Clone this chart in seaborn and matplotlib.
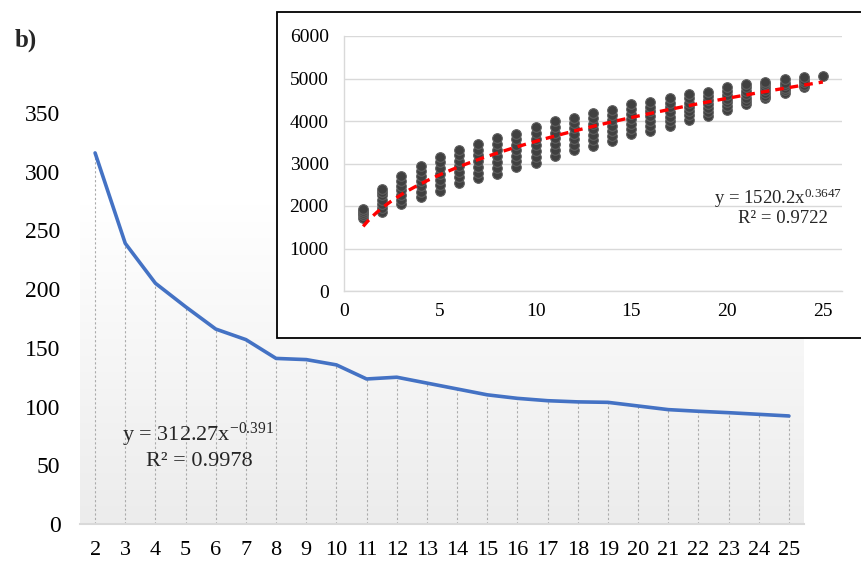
import numpy as np
import pandas as pd
import matplotlib
matplotlib.use("Agg")
import matplotlib.pyplot as plt
from matplotlib.patches import Rectangle
from matplotlib.colors import LinearSegmentedColormap
import seaborn as sns

# --- datos del grafico principal ---
main_x = list(range(2, 26))
main_y = [316, 239, 205, 185, 166, 157, 141, 140, 135.5, 123.5, 125, 120,
          115, 110, 107, 105, 104, 103.6, 100.5, 97.4, 96, 94.8, 93.4, 92]
main_yticks = [0, 50, 100, 150, 200, 250, 300, 350]

# --- datos del grafico insertado (columnas de puntos por x) ---
inset_x = list(range(1, 26))
inset_cols = [
    [1720, 1780, 1830, 1880, 1940],
    [1850, 1950, 2050, 2150, 2250, 2330, 2400],
    [2050, 2150, 2260, 2370, 2480, 2590, 2700],
    [2220, 2340, 2460, 2580, 2700, 2820, 2940],
    [2360, 2490, 2620, 2760, 2890, 3030, 3160],
    [2550, 2680, 2810, 2940, 3060, 3190, 3310],
    [2650, 2780, 2920, 3060, 3190, 3320, 3450],
    [2750, 2890, 3040, 3180, 3320, 3470, 3610],
    [2920, 3050, 3180, 3310, 3440, 3570, 3700],
    [3020, 3160, 3300, 3440, 3580, 3720, 3860],
    [3180, 3320, 3450, 3590, 3720, 3860, 3990],
    [3310, 3440, 3570, 3700, 3830, 3960, 4080],
    [3420, 3550, 3680, 3810, 3940, 4070, 4200],
    [3530, 3650, 3770, 3890, 4020, 4140, 4250],
    [3690, 3810, 3930, 4040, 4160, 4280, 4400],
    [3770, 3880, 4000, 4110, 4230, 4340, 4450],
    [3890, 4000, 4100, 4210, 4320, 4420, 4530],
    [4030, 4130, 4230, 4330, 4430, 4530, 4630],
    [4110, 4210, 4300, 4400, 4500, 4600, 4690],
    [4260, 4350, 4440, 4520, 4610, 4700, 4790],
    [4390, 4470, 4550, 4630, 4710, 4790, 4870],
    [4530, 4600, 4660, 4730, 4800, 4860, 4920],
    [4660, 4720, 4780, 4840, 4900, 4980],
    [4790, 4850, 4910, 4970, 5040],
    [5060],
]
# coeficientes de la linea de tendencia (potencial) mostrados en el grafico
trend_a = 1520.2
trend_b = 0.3647

sns.set_theme(style="white")
plt.rcParams["font.family"] = ["Liberation Serif", "DejaVu Serif"]
plt.rcParams["mathtext.fontset"] = "custom"
plt.rcParams["mathtext.rm"] = "Liberation Serif"

W, H = 861, 561
fig = plt.figure(figsize=(W / 100, H / 100), dpi=100)
fig.patch.set_facecolor("white")

# ---------- grafico principal ----------
ax = fig.add_axes([80 / W, 37 / H, 724 / W, 411 / H])
ax.set_facecolor("white")

# fondo degradado del area de trazado (blanco arriba, gris abajo)
grad = np.linspace(0, 1, 200).reshape(-1, 1)
cmap = LinearSegmentedColormap.from_list("g", ["#ffffff", "#ececec"])
ax.imshow(grad, extent=[1.5, 25.5, 0, 272], aspect="auto", cmap=cmap,
          vmin=0, vmax=1, origin="upper", zorder=0)

ax.vlines(main_x, 0, main_y, colors="#ababab", linestyles=(0, (2, 2)),
          linewidth=0.8, zorder=1)
sns.lineplot(x=main_x, y=main_y, ax=ax, color="#4472C4", linewidth=2.6,
             zorder=3)

ax.set_xlim(1.5, 25.5)
ax.set_ylim(0, 350)
ax.set_xticks(main_x)
ax.set_xticklabels([str(v) for v in main_x], fontsize=16)
ax.set_yticks(main_yticks)
ax.set_yticklabels([str(v) for v in main_yticks], fontsize=17)
ax.tick_params(axis="x", length=0, pad=12, colors="black")
ax.tick_params(axis="y", length=0, pad=14, colors="black")
for s in ["top", "right", "left"]:
    ax.spines[s].set_visible(False)
ax.spines["bottom"].set_color("#d9d9d9")
ax.spines["bottom"].set_linewidth(1.5)
ax.set_xlabel("")
ax.set_ylabel("")

ax.text(5.41, 75.8, r"y = 312.27x$\mathregular{^{-0.391}}$", ha="center",
        va="center", fontsize=16, zorder=4)
ax.text(5.45, 52.8, "R² = 0.9978", ha="center", va="center", fontsize=16,
        zorder=4)

fig.text(15 / W, 1 - 40 / H, "b)", fontsize=18, fontweight="bold",
         va="center", ha="left")

# ---------- recuadro insertado ----------
frame = Rectangle((277 / W, (H - 338) / H), 600 / W, 326 / H,
                  transform=fig.transFigure, facecolor="white",
                  edgecolor="black", linewidth=1.3, zorder=5)
fig.add_artist(frame)

ax2 = fig.add_axes([344 / W, 270 / H, 498 / W, 255 / H], zorder=6)
ax2.set_facecolor("white")

df = pd.DataFrame({
    "x": [x for x, col in zip(inset_x, inset_cols) for _ in col],
    "y": [v for col in inset_cols for v in col],
})
sns.scatterplot(data=df, x="x", y="y", ax=ax2, s=48, color="#404040",
                edgecolor="#5e5e5e", linewidth=0.8, zorder=3)

xt = np.linspace(inset_x[0], inset_x[-1], 100)
ax2.plot(xt, trend_a * xt ** trend_b, color="#ff0000", linewidth=2.4,
         dashes=(2.6, 1.8), zorder=4)

ax2.set_xlim(0, 26)
ax2.set_ylim(0, 6000)
ax2.set_xticks([0, 5, 10, 15, 20, 25])
ax2.set_yticks(range(0, 6001, 1000))
ax2.tick_params(axis="both", length=0, labelsize=14, colors="black")
ax2.tick_params(axis="y", pad=11)
ax2.tick_params(axis="x", pad=9)
ax2.grid(axis="y", color="#d9d9d9", linewidth=1)
ax2.set_axisbelow(True)
for s in ["top", "right"]:
    ax2.spines[s].set_visible(False)
for s in ["left", "bottom"]:
    ax2.spines[s].set_color("#d9d9d9")
    ax2.spines[s].set_linewidth(1)
ax2.set_xlabel("")
ax2.set_ylabel("")

ax2.text(26, 2184, r"y = 1520.2x$\mathregular{^{0.3647}}$", ha="right",
         va="center", fontsize=13.5, zorder=5)
ax2.text(22.9, 1713, "R² = 0.9722", ha="center", va="center", fontsize=13.5,
         zorder=5)

fig.savefig("out.png", dpi=100)
